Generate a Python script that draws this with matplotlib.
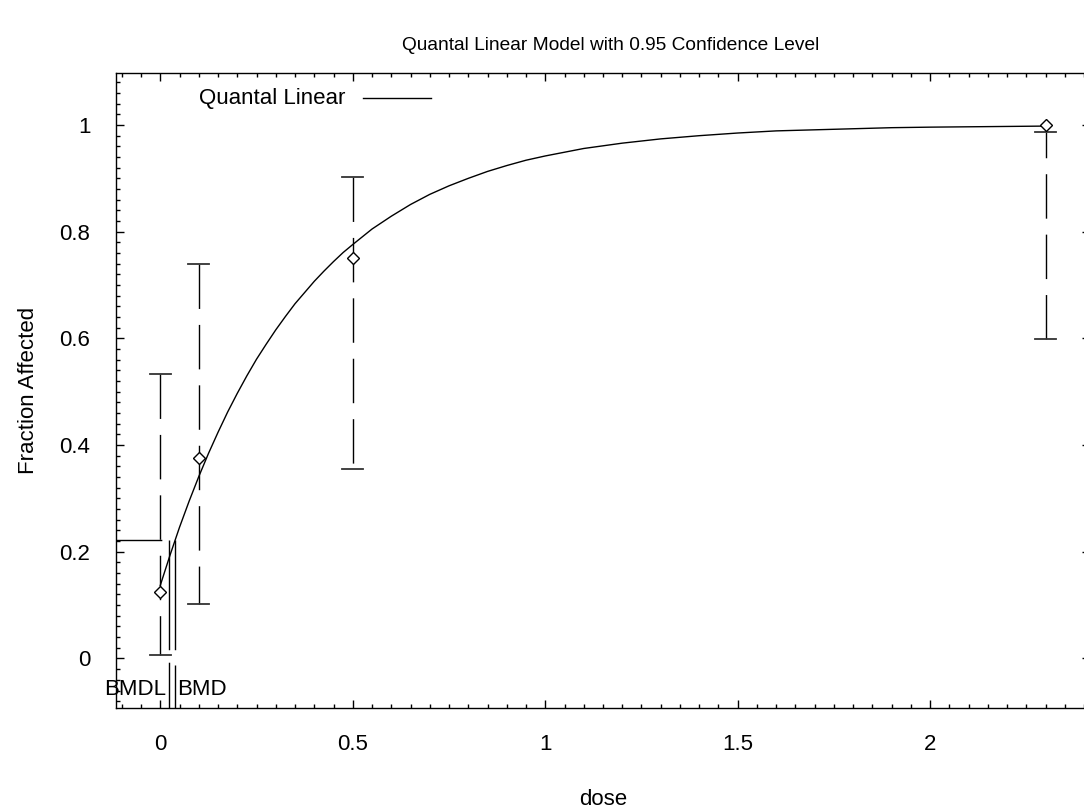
import matplotlib
matplotlib.use("Agg")
import matplotlib.pyplot as plt
from matplotlib.ticker import MultipleLocator

# ---- data ----
dose = [0.0, 0.1, 0.5, 2.3]
frac = [0.125, 0.375, 0.75, 1.0]
ci_low = [0.006, 0.103, 0.355, 0.598]
ci_high = [0.533, 0.740, 0.902, 0.987]

curve_dose = [0.0, 0.025, 0.05, 0.075, 0.1, 0.125, 0.15, 0.175, 0.2, 0.225, 0.25, 0.275,
              0.3, 0.325, 0.35, 0.375, 0.4, 0.425, 0.45, 0.475, 0.5, 0.55, 0.6, 0.65,
              0.7, 0.75, 0.8, 0.85, 0.9, 0.95, 1.0, 1.05, 1.1, 1.15, 1.2, 1.3, 1.4,
              1.5, 1.6, 1.7, 1.8, 1.9, 2.0, 2.15, 2.3]
curve_frac = [0.137, 0.193, 0.246, 0.295, 0.341, 0.384, 0.424, 0.462, 0.497, 0.530, 0.561, 0.589,
              0.616, 0.641, 0.665, 0.686, 0.707, 0.726, 0.744, 0.761, 0.776, 0.805, 0.829, 0.851,
              0.870, 0.886, 0.900, 0.913, 0.924, 0.934, 0.942, 0.949, 0.956, 0.961, 0.966, 0.974, 0.980,
              0.985, 0.989, 0.991, 0.993, 0.995, 0.996, 0.997, 0.998]

bmr_level = 0.223
bmd = 0.039
bmdl = 0.0225

xlim = (-0.115, 2.415)
ylim = (-0.0928, 1.0975)
xticks = [0, 0.5, 1, 1.5, 2]
xtick_labels = ["0", "0.5", "1", "1.5", "2"]
yticks = [0, 0.2, 0.4, 0.6, 0.8, 1]
ytick_labels = ["0", "0.2", "0.4", "0.6", "0.8", "1"]

plt.rcParams['font.family'] = ['Liberation Sans', 'DejaVu Sans']

W, H = 1084, 809
fig = plt.figure(figsize=(W / 100, H / 100), dpi=100)
left, right, top, bottom = 116, 1090, 73, 708
ax = fig.add_axes([left / W, 1 - bottom / H, (right - left) / W, (bottom - top) / H])
ax.set_xlim(*xlim)
ax.set_ylim(*ylim)

lw = 1.0
dash = (32, 11.5)

# error bars (dash pattern direction as in reference)
from_bottom = [False, False, False, True]
for d, lo, hi, fb in zip(dose, ci_low, ci_high, from_bottom):
    ys = [lo, hi] if fb else [hi, lo]
    ax.plot([d, d], ys, color='black', lw=lw, dashes=dash, solid_capstyle='butt')
capw = 0.0275
for d, lo, hi in zip(dose, ci_low, ci_high):
    for v in (lo, hi):
        ax.plot([d - capw, d + capw], [v, v], color='#333333', lw=1.3)

# model curve
ax.plot(curve_dose, curve_frac, color='black', lw=1.0)

# data points
ax.plot(dose, frac, linestyle='none', marker='D', markersize=6.4,
        markerfacecolor='white', markeredgecolor='black', markeredgewidth=1.0, zorder=5)

# BMD / BMDL lines
ax.plot([xlim[0], bmd], [bmr_level, bmr_level], color='black', lw=lw, dashes=(33, 14))
ax.plot([bmd, bmd], [bmr_level, ylim[0]], color='black', lw=lw, dashes=(79, 11))
ax.plot([bmdl, bmdl], [bmr_level, ylim[0]], color='black', lw=lw, dashes=(79, 9))
ax.text(0.0165, -0.059, "BMDL", ha='right', va='center', fontsize=16)
ax.text(0.043, -0.059, "BMD", ha='left', va='center', fontsize=16)

# ticks
ax.set_xticks(xticks)
ax.set_xticklabels(xtick_labels)
ax.set_yticks(yticks)
ax.set_yticklabels(ytick_labels)
ax.xaxis.set_minor_locator(MultipleLocator(0.05))
ax.yaxis.set_minor_locator(MultipleLocator(0.02))
ax.tick_params(axis='both', which='major', direction='in', length=6, width=1,
               labelsize=16, top=True, right=True)
ax.tick_params(axis='both', which='minor', direction='in', length=3, width=1,
               top=True, right=False)
ax.tick_params(axis='x', which='major', pad=18.5)
ax.tick_params(axis='y', which='major', pad=18.5)

for s in ax.spines.values():
    s.set_linewidth(1.0)

ax.set_xlabel("dose", fontsize=16, labelpad=25)
ax.set_ylabel("Fraction Affected", fontsize=16, labelpad=15)

# legend (manual, as in reference)
ax.text(0.101, 1.0506, "Quantal Linear", ha='left', va='center', fontsize=16)
ax.plot([0.527, 0.703], [1.0506, 1.0506], color='black', lw=1.0)

fig.text(611 / W, 1 - 45 / H, "Quantal Linear Model with 0.95 Confidence Level",
         ha='center', va='center', fontsize=13.8)

fig.savefig("out.png", dpi=100)
